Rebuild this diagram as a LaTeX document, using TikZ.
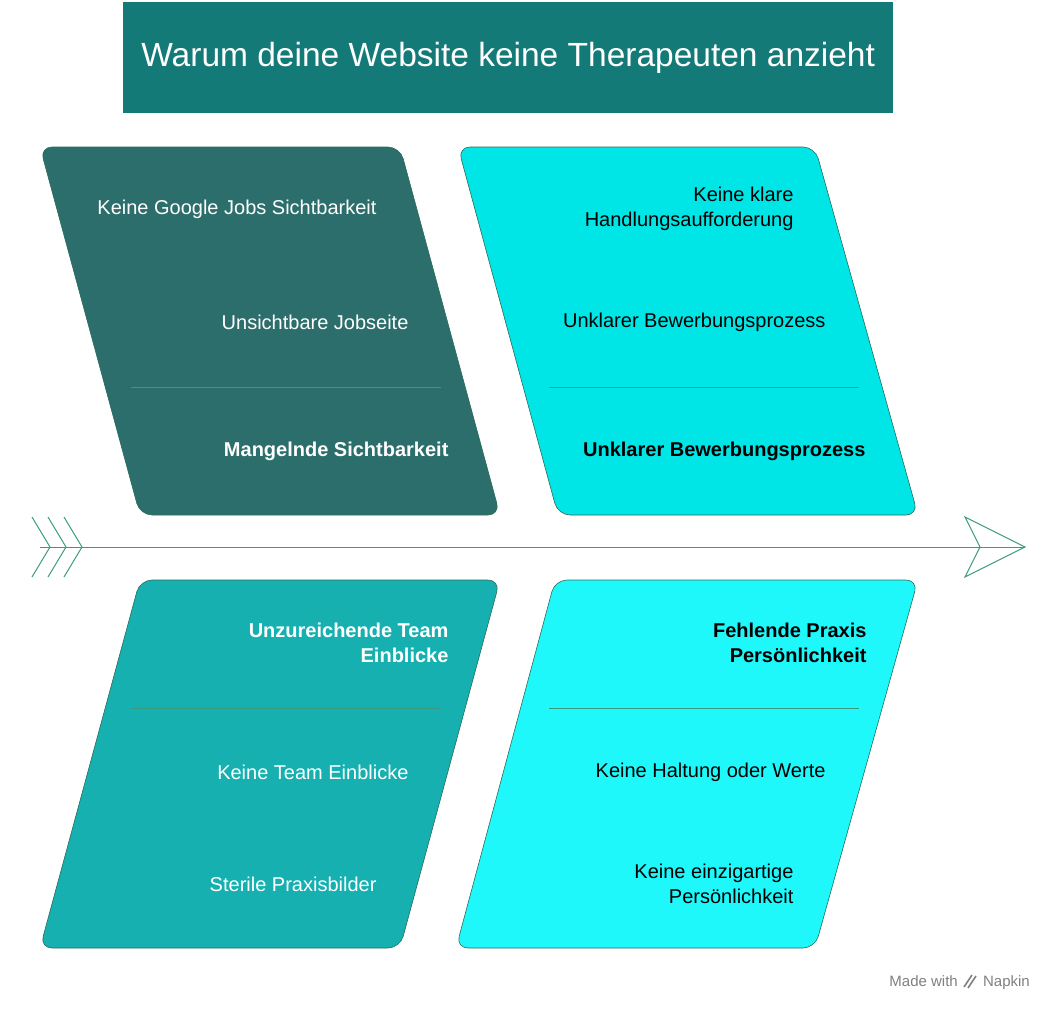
\documentclass[tikz,border=0pt]{standalone}
\usepackage{fontspec}
\setmainfont{Liberation Sans}
\definecolor{ttl}{HTML}{147A78}
\definecolor{c1}{HTML}{2C6E6C}
\definecolor{c2}{HTML}{00E5E5}
\definecolor{c3}{HTML}{16B0B0}
\definecolor{c4}{HTML}{1FF8FB}
\definecolor{ln}{HTML}{3A9A80}
\begin{document}
\begin{tikzpicture}[x=1pt,y=-1pt,
  para/.style={rounded corners=12pt,draw=ln!70!black,line width=0.6pt},
  txt/.style={font=\fontsize{20}{25}\selectfont,anchor=east,align=right},
  btxt/.style={txt,font=\fontsize{20}{25}\selectfont\bfseries},
  div/.style={draw=ln,line width=0.8pt}]
\useasboundingbox (0,0) rectangle (1058,1015);
\node[fill=ttl,minimum width=770pt,minimum height=111pt,anchor=north west,inner sep=0,text=white,font=\fontsize{33.5}{40}\selectfont] (title) at (123,2) {Warum deine Website keine Therapeuten anzieht};
\fill[c1,para] (40,147) -- (400,147) -- (500,515) -- (140,515) -- cycle;
\fill[c2,para] (458,147) -- (815,147) -- (918,515) -- (558,515) -- cycle;
\fill[c3,para] (140,580) -- (500,580) -- (400,948) -- (40,948) -- cycle;
\fill[c4,para] (555,580) -- (918,580) -- (815,948) -- (456,948) -- cycle;
\draw[div] (131,387) -- (441,387);
\draw[div] (549,387) -- (859,387);
\draw[div] (131,708) -- (441,708);
\draw[div] (549,708) -- (859,708);
\coordinate (s0) at (40,547); \coordinate (s1) at (1025,547);
\draw[ln,line width=1pt] (s0) -- (s1);
\foreach \dx in {0,16,32}{\draw[ln,line width=1pt] (32+\dx,517) -- (50+\dx,547) -- (32+\dx,577);}
\draw[ln,line width=1pt] (965,517) -- (1025,547) -- (965,577) -- (980,547) -- cycle;
\node[txt,text=white] (a1) at (380,209) {Keine Google Jobs Sichtbarkeit};
\node[txt,text=white] (a2) at (412,322) {Unsichtbare Jobseite};
\node[btxt,text=white] (a3) at (452,451) {Mangelnde Sichtbarkeit};
\node[txt] (b1) at (797,209) {Keine klare\\Handlungsaufforderung};
\node[txt] (b2) at (829,322) {Unklarer Bewerbungsprozess};
\node[btxt] (b3) at (869,451) {Unklarer Bewerbungsprozess};
\node[btxt,text=white] (c1t) at (452,643) {Unzureichende Team\\Einblicke};
\node[txt,text=white] (c2t) at (412,772) {Keine Team Einblicke};
\node[txt,text=white] (c3t) at (380,884) {Sterile Praxisbilder};
\node[btxt] (d1) at (870,643) {Fehlende Praxis\\Persönlichkeit};
\node[txt] (d2) at (829,772) {Keine Haltung oder Werte};
\node[txt] (d3) at (797,884) {Keine einzigartige\\Persönlichkeit};
\node[anchor=base east,text=gray,font=\fontsize{15}{17}\selectfont,inner sep=0] (ft1) at (1030,986) {Napkin};
\node[anchor=base east,text=gray,font=\fontsize{15}{17}\selectfont,inner sep=0] (ft0) at (958,986) {Made with};
\draw[gray,line width=1.6pt] (964,987) -- (972,975) (968,988) -- (976,976);
\end{tikzpicture}
\end{document}
